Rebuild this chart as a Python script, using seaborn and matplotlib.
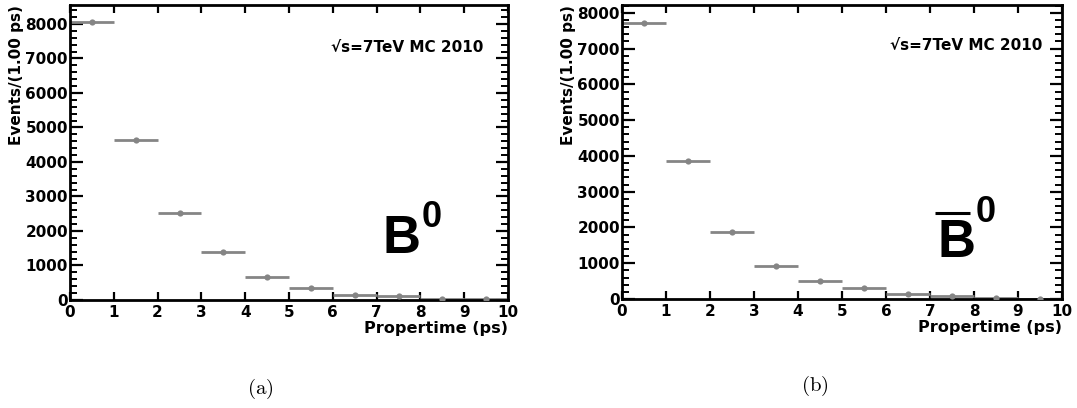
import matplotlib
matplotlib.use("Agg")
import matplotlib.pyplot as plt
from matplotlib.lines import Line2D
from matplotlib.ticker import MultipleLocator
import numpy as np
import pandas as pd
import seaborn as sns

# Bin centres of the proper-time histogram (ps), 1 ps wide bins
bin_centers = [0.5, 1.5, 2.5, 3.5, 4.5, 5.5, 6.5, 7.5, 8.5, 9.5]
bin_half_width = 0.5

# Events per bin
events_b0 = [8060, 4630, 2510, 1380, 680, 345, 155, 105, 40, 22]
events_b0bar = [7720, 3860, 1880, 920, 495, 310, 150, 75, 40, 12]

x_ticks = list(range(0, 11))
y_ticks = list(range(0, 9000, 1000))

sns.set_theme(style="ticks")
plt.rcParams["font.family"] = ["DejaVu Sans"]
plt.rcParams["mathtext.fontset"] = "cm"
plt.rcParams["text.color"] = "black"
plt.rcParams["axes.labelcolor"] = "black"
plt.rcParams["xtick.color"] = "black"
plt.rcParams["ytick.color"] = "black"

W, H = 1077, 408
fig = plt.figure(figsize=(W / 100, H / 100), dpi=100)
fig.patch.set_facecolor("white")

mark_color = "#858585"


def px_box(x0, x1, ytop, ybot):
    return [x0 / W, 1 - ybot / H, (x1 - x0) / W, (ybot - ytop) / H]


def draw_panel(ax, events, ymax):
    df = pd.DataFrame({"t": bin_centers, "n": events})
    ax.errorbar(df["t"], df["n"], xerr=bin_half_width, fmt="none",
                ecolor=mark_color, elinewidth=2.0, capsize=0, zorder=2)
    sns.scatterplot(data=df, x="t", y="n", ax=ax, color=mark_color,
                    s=20, linewidth=0, zorder=3, legend=False)
    ax.set_xlim(0, 10)
    ax.set_ylim(0, ymax)
    ax.set_xticks(x_ticks)
    ax.set_yticks(y_ticks)
    ax.yaxis.set_minor_locator(MultipleLocator(200))
    ax.set_facecolor("white")
    for sp in ax.spines.values():
        sp.set_visible(True)
        sp.set_linewidth(2.0)
        sp.set_color("black")
    ax.tick_params(axis="x", which="major", direction="in", top=True,
                   bottom=True, length=6, width=1.6, pad=3.5,
                   labelsize=11, colors="black")
    ax.tick_params(axis="y", which="major", direction="in", left=True,
                   right=True, length=9, width=1.6, pad=1.5,
                   labelsize=11, colors="black")
    ax.tick_params(axis="y", which="minor", direction="in", left=True,
                   right=True, length=5, width=1.4, colors="black")
    for lab in ax.get_xticklabels() + ax.get_yticklabels():
        lab.set_fontweight("bold")
        lab.set_color("black")
    ax.set_xlabel("Propertime (ps)", loc="right", fontsize=11.6,
                  fontweight="bold", labelpad=1, color="black")
    ax.set_ylabel("Events/(1.00 ps)", loc="top", fontsize=11,
                  fontweight="bold", labelpad=1, color="black")
    ax.grid(False)


ax1 = fig.add_axes(px_box(70, 508, 5, 300))
draw_panel(ax1, events_b0, 8550)
ax2 = fig.add_axes(px_box(622, 1062, 5, 299))
draw_panel(ax2, events_b0bar, 8220)

energy_label = "\u221As=7TeV MC 2010"
ax1.text(0.943, 0.841, energy_label, transform=ax1.transAxes, ha="right",
         va="baseline", fontsize=11, fontweight="bold", color="black")
ax2.text(0.9545, 0.847, energy_label, transform=ax2.transAxes, ha="right",
         va="baseline", fontsize=11, fontweight="bold", color="black")

# Particle labels
big = dict(family="Liberation Sans", fontweight="bold", color="black")
ax1.text(0.714, 0.159, "B", transform=ax1.transAxes, ha="left",
         va="baseline", fontsize=38, **big)
ax1.text(0.802, 0.247, "0", transform=ax1.transAxes, ha="left",
         va="baseline", fontsize=26, **big)

ax2.text(0.716, 0.143, "B", transform=ax2.transAxes, ha="left",
         va="baseline", fontsize=38, **big)
ax2.text(0.803, 0.262, "0", transform=ax2.transAxes, ha="left",
         va="baseline", fontsize=26, **big)
ax2.add_line(Line2D([0.711, 0.791], [0.293, 0.293], transform=ax2.transAxes,
                    color="black", linewidth=2.2, solid_capstyle="butt"))

fig.text(260 / W, 1 - 389 / H, r"$\mathrm{(a)}$", ha="center", va="center",
         fontsize=15, color="black")
fig.text(815 / W, 1 - 386 / H, r"$\mathrm{(b)}$", ha="center", va="center",
         fontsize=15, color="black")

fig.savefig("out.png", dpi=100, facecolor="white")
